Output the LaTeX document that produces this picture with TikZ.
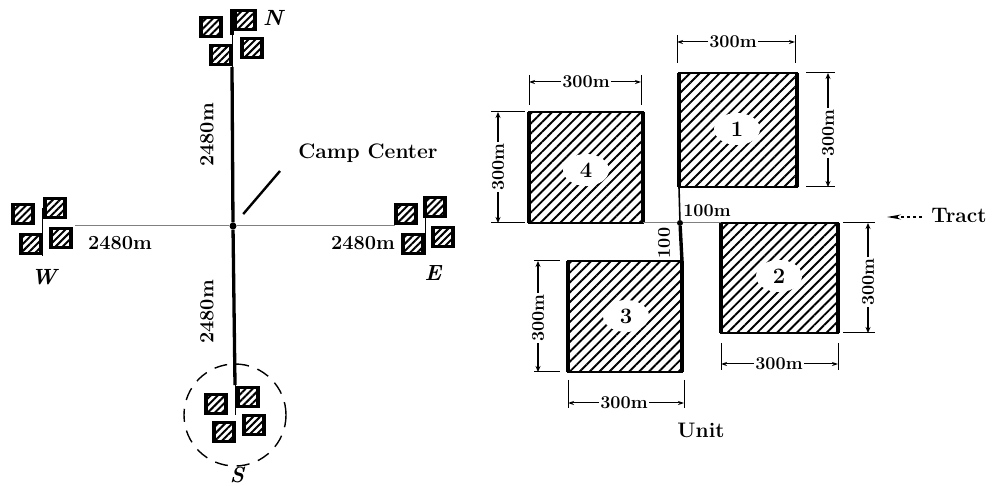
\documentclass[tikz,border=0pt]{standalone}
\usepackage{fontspec}
\usepackage{xcolor}
\usetikzlibrary{arrows.meta,patterns.meta,shapes.geometric}
\newcommand{\lblfont}{\fontsize{18}{18}\selectfont\bfseries}
\newcommand{\roadfont}{\fontsize{20}{20}\selectfont\bfseries}
\newcommand{\widefont}{\fontsize{21}{21}\selectfont\bfseries\addfontfeature{LetterSpace=19}}
\newcommand{\campfont}{\fontsize{22}{22}\selectfont\bfseries\itshape}
\tikzset{
  smallbox/.style={draw,line width=3.4pt,minimum width=20pt,minimum height=19pt,inner sep=0pt,outer sep=0pt,
    pattern={Lines[angle=45,distance=5pt,line width=2pt]},pattern color=black},
  tractbox/.style={draw,line width=1.4pt,inner sep=0pt,outer sep=0pt,
    pattern={Lines[angle=45,distance=7pt,line width=1.9pt]}},
  tractnum/.style={ellipse,fill=white,inner sep=0pt,minimum width=46pt,minimum height=32pt,font=\fontsize{22}{22}\selectfont\bfseries},
  tractside/.style={line width=3.4pt},
  road/.style={line width=3.3pt},
  street/.style={line width=1pt},
  dimlabel/.style={fill=white,inner sep=1pt,font=\lblfont},
  dimarrow/.style={line width=1pt,-{Stealth[length=6pt,width=4pt]}},
  dimarrowv/.style={line width=2.2pt,-{Stealth[length=6pt,width=5pt]}},
  dimtick/.style={line width=1pt},
}
\begin{document}
\begin{tikzpicture}[x=1pt,y=-1pt]
  \path[use as bounding box,fill=white] (0,0) rectangle (1002,486);
  % camp: four roads from the center
  \node[circle,fill,inner sep=0pt,minimum size=7pt] (center) at (233,226) {};
  \coordinate (nbend) at (232,67);
  \coordinate (ngap) at (232,35);
  \coordinate (ntop) at (232,9);
  \coordinate (sbend) at (235,385);
  \coordinate (sbot) at (235,415);
  \coordinate (wend) at (75,226);
  \coordinate (eend) at (395,226);
  \draw[road] (center) -- (nbend);
  \draw[street] (nbend) -- (ngap);
  \draw[road] (ngap) -- (ntop);
  \draw[road] (center) -- (sbend);
  \draw[street] (sbend) -- (sbot);
  \draw[street,gray] (center) -- (wend);
  \draw[street,gray] (center) -- (eend);
  \coordinate (wa) at (42,208);
  \coordinate (wb) at (42,256);
  \coordinate (ea) at (425,218);
  \coordinate (eb) at (425,255);
  \draw[street] (wa) -- (wb);
  \draw[street] (ea) -- (eb);
  % outlying units
  \foreach \name/\x/\y in {n1/245/20,n2/211/27,n3/252/48,n4/221/55,
    w1/55/208,w2/23/214,w3/61/238,w4/31/244,
    e1/435/207,e2/406/214,e3/443/237,e4/413/244,
    s1/248/397,s2/216/404,s3/254/425,s4/224/432}
    \node[smallbox] (\name) at (\x,\y) {};
  \node[circle,draw,line width=1.4pt,dash pattern=on 13pt off 9pt,minimum size=102pt,inner sep=0pt] (sring) at (235,415) {};
  \node[font=\campfont,inner sep=0pt] (nlbl) at (273,18) {N};
  \node[font=\campfont,inner sep=0pt] (wlbl) at (44,277) {W};
  \node[font=\campfont,inner sep=0pt] (elbl) at (433,273) {E};
  \node[font=\campfont,inner sep=0pt] (slbl) at (237,475) {S};
  \node[font=\roadfont,rotate=90] (dnorth) at (207,135) {2480m};
  \node[font=\roadfont,rotate=90] (dsouth) at (207,312) {2480m};
  \node[font=\roadfont] (dwest) at (120,243) {2480m};
  \node[font=\roadfont] (deast) at (363,243) {2480m};
  \node[font=\widefont] (camp) at (368,153) {Camp Center};
  \coordinate (leadtop) at (280,171);
  \draw[line width=2.4pt,shorten >=12pt] (leadtop) -- (center);
  % unit: four tracts
  \node[tractbox,minimum width=118pt,minimum height=114pt] (t1) at (738,130) {};
  \node[tractbox,minimum width=114pt,minimum height=111pt] (t4) at (586,167.5) {};
  \node[tractbox,minimum width=114pt,minimum height=111pt] (t3) at (625,316.5) {};
  \node[tractbox,minimum width=117pt,minimum height=110pt] (t2) at (779.5,278) {};
  \foreach \id in {t1,t2,t3,t4} {
    \draw[tractside] (\id.north west) -- (\id.south west);
    \draw[tractside] (\id.north east) -- (\id.south east);
  }
  \node[tractnum] (n1lbl) at (737,129) {1};
  \node[tractnum] (n2lbl) at (779,276) {2};
  \node[tractnum] (n3lbl) at (626,316) {3};
  \node[tractnum] (n4lbl) at (586,170) {4};
  % widths
  \foreach \id/\xa/\xb/\xm/\yd/\ya/\yb in {t1/677/795/733/42/35/63,t4/529/641/586/82/75/105,
    t3/568/684/624/403/380/408,t2/721/838/779/364/343/370} {
    \coordinate (\id w) at (\xa,\yd);
    \coordinate (\id e) at (\xb,\yd);
    \node[dimlabel] (\id h) at (\xm,\yd) {300m};
    \draw[dimarrow] (\id h) -- (\id w);
    \draw[dimarrow] (\id h) -- (\id e);
    \draw[dimtick] (\xa,\ya) -- (\xa,\yb);
    \draw[dimtick] (\xb,\ya) -- (\xb,\yb);
  }
  % heights
  \foreach \id/\xv/\ya/\yb/\ym/\xl/\xr in {t1/828/73/187/133/806/835,t4/498/112/223/167/491/525,
    t3/538/261/372/318/534/560,t2/868/223/333/282/843/875} {
    \coordinate (\id n) at (\xv,\ya);
    \coordinate (\id s) at (\xv,\yb);
    \node[dimlabel,rotate=90] (\id v) at (\xv,\ym) {300m};
    \draw[dimarrowv] (\id v) -- (\id n);
    \draw[dimarrowv] (\id v) -- (\id s);
    \draw[dimtick] (\xl,\ya) -- (\xr,\ya);
    \draw[dimtick] (\xl,\yb) -- (\xr,\yb);
  }
  % gap between the tracts
  \node[circle,fill,inner sep=0pt,minimum size=6pt] (mid) at (680,223) {};
  \draw[line width=1.6pt] (mid) -- (t1.south west);
  \draw[tractside] (mid) -- (t3.north east);
  \draw[street,gray] (mid) -- (t4.south east);
  \draw[street,gray] (mid) -- (t2.north west);
  \node[font=\lblfont] (gapa) at (707,211) {100m};
  \node[font=\lblfont,rotate=90] (gapb) at (664,243) {100};
  \node[font=\widefont] (tract) at (959,215) {Tract};
  \coordinate (tracttip) at (887,217);
  \coordinate (tracttail) at (922,217);
  \draw[line width=1.2pt,dashed,-{Stealth[length=14pt,width=5pt]}] (tracttail) -- (tracttip);
  \node[font=\widefont] (unit) at (701,430) {Unit};
\end{tikzpicture}
\end{document}
